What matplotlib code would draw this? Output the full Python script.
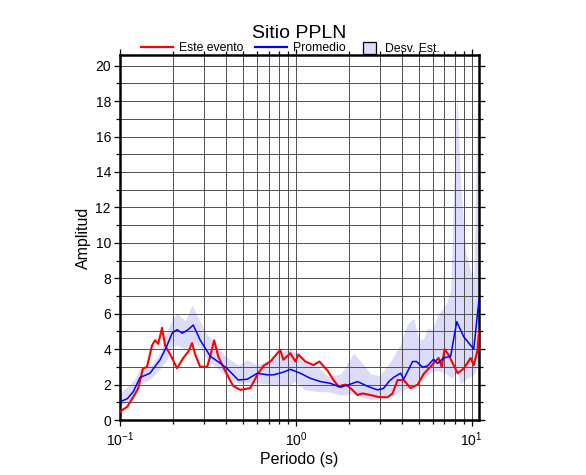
import matplotlib
matplotlib.use('Agg')
import matplotlib.pyplot as plt
import matplotlib.patches as mpatches
from matplotlib.lines import Line2D
from matplotlib.legend_handler import HandlerPatch
from matplotlib.ticker import MultipleLocator, LogLocator, NullFormatter

plt.rcParams['font.family'] = ['Liberation Sans', 'DejaVu Sans']
plt.rcParams['mathtext.fontset'] = 'custom'
plt.rcParams['mathtext.rm'] = 'Liberation Sans'
plt.rcParams['mathtext.it'] = 'Liberation Sans:italic'

# Este evento (red)
event_period = [0.100, 0.110, 0.119, 0.127, 0.135, 0.1425, 0.152, 0.158, 0.165, 0.1734,
                0.1805, 0.193, 0.211, 0.229, 0.244, 0.257, 0.2675, 0.2855, 0.313, 0.326,
                0.343, 0.3615, 0.386, 0.412, 0.4405, 0.483, 0.5505, 0.604, 0.653, 0.716,
                0.785, 0.816, 0.849, 0.931, 0.993, 1.033, 1.132, 1.259, 1.361, 1.511,
                1.636, 1.746, 1.914, 2.046, 2.24, 2.393, 2.66, 2.951, 3.322, 3.548,
                3.786, 4.099, 4.49, 4.925, 5.33, 5.94, 6.48, 6.75, 7.01, 7.39,
                7.89, 8.32, 9.00, 9.86, 10.27, 10.8, 11.0]
event_amp = [0.47, 0.75, 1.3, 1.8, 2.9, 3.0, 4.2, 4.5, 4.3, 5.2,
             4.2, 3.7, 2.92, 3.5, 3.85, 4.34, 3.7, 3.0, 3.0, 3.6,
             4.5, 3.6, 3.0, 2.45, 1.92, 1.7, 1.8, 2.55, 3.05, 3.3,
             3.77, 3.95, 3.4, 3.77, 3.3, 3.7, 3.3, 3.1, 3.3, 2.8,
             2.26, 1.9, 2.0, 1.8, 1.41, 1.5, 1.41, 1.3, 1.28, 1.5,
             2.26, 2.26, 1.8, 2.0, 2.6, 3.1, 3.5, 3.0, 4.0, 3.67,
             3.1, 2.64, 2.9, 3.5, 3.1, 3.95, 5.0]

# Promedio (blue)
mean_period = [0.100, 0.110, 0.119, 0.130, 0.148, 0.169, 0.185, 0.198, 0.211, 0.226,
               0.244, 0.261, 0.286, 0.326, 0.372, 0.407, 0.470, 0.529, 0.604, 0.688,
               0.745, 0.849, 0.931, 1.06, 1.21, 1.38, 1.57, 1.79, 2.05, 2.24,
               2.56, 2.91, 3.15, 3.40, 3.59, 3.94, 4.10, 4.61, 4.85, 5.26,
               5.60, 6.07, 6.40, 6.92, 7.59, 8.22, 9.00, 10.27, 11.0]
mean_amp = [1.03, 1.2, 1.6, 2.4, 2.64, 3.4, 4.2, 4.9, 5.1, 4.9,
            5.1, 5.36, 4.5, 3.6, 3.2, 2.9, 2.26, 2.3, 2.64, 2.55,
            2.55, 2.7, 2.86, 2.64, 2.35, 2.17, 2.07, 1.85, 2.03, 2.17,
            1.9, 1.7, 1.78, 2.2, 2.4, 2.64, 2.3, 3.3, 3.3, 2.98,
            3.05, 3.43, 3.2, 3.5, 3.6, 5.55, 4.7, 4.0, 6.8]

# Desv. Est. (band)
band_period = [0.100, 0.119, 0.130, 0.148, 0.169, 0.185, 0.198, 0.211, 0.235, 0.257,
               0.278, 0.305, 0.3475, 0.396, 0.47, 0.529, 0.604, 0.716, 0.849, 0.931,
               0.993, 1.13, 1.33, 1.53, 1.80, 2.13, 2.39, 2.66, 2.99, 3.27,
               3.55, 3.94, 4.30, 4.67, 5.02, 5.33, 5.60, 5.94, 6.40, 7.20,
               7.59, 7.89, 8.22, 8.63, 9.24, 10.0, 10.3, 10.5, 10.75, 11.0]
band_upper = [1.5, 2.2, 2.9, 3.0, 3.8, 5.0, 5.7, 6.0, 5.6, 6.5,
              5.8, 5.0, 4.3, 3.6, 3.1, 3.4, 3.1, 3.4, 3.9, 4.0,
              3.8, 3.2, 3.0, 2.45, 2.6, 3.77, 3.2, 2.6, 2.5, 3.0,
              3.5, 4.3, 5.4, 5.75, 4.5, 4.6, 5.2, 5.1, 5.9, 6.6,
              7.3, 12.8, 18.5, 13.4, 9.5, 8.2, 8.0, 12.8, 17.8, 18.0]
band_lower = [0.8, 1.2, 2.0, 2.3, 2.9, 3.4, 4.2, 4.2, 4.0, 4.4,
              4.2, 3.6, 3.0, 2.55, 2.07, 2.1, 2.1, 2.0, 1.9, 2.0,
              2.17, 1.7, 1.6, 1.6, 1.4, 1.5, 1.3, 1.15, 1.2, 1.3,
              1.41, 1.6, 1.8, 2.0, 2.26, 2.3, 2.5, 2.7, 2.8, 2.6,
              2.4, 2.5, 2.9, 2.0, 2.3, 2.5, 2.6, 2.8, 3.0, 3.3]

band_color = '#dcdcfa'


def square_handle(legend, orig_handle, xdescent, ydescent, width, height, fontsize):
    return mpatches.Rectangle((-xdescent, -ydescent), width, height)


fig = plt.figure(figsize=(5.86, 4.75), dpi=100)
ax = fig.add_axes([120 / 586, 1 - 420 / 475, 359 / 586, 365 / 475])

ax.fill_between(band_period, band_lower, band_upper, color=band_color, linewidth=0, zorder=1)
ax.plot(event_period, event_amp, color='#ff0000', linewidth=1.5, zorder=3)
ax.plot(mean_period, mean_amp, color='#0000ff', linewidth=1.1, zorder=4)

ax.set_xscale('log')
ax.set_xlim(0.1, 11.0)
ax.set_ylim(0, 20.6)

ax.yaxis.set_major_locator(MultipleLocator(2))
ax.yaxis.set_minor_locator(MultipleLocator(1))
ax.xaxis.set_major_locator(LogLocator(base=10))
ax.xaxis.set_minor_locator(LogLocator(base=10, subs=range(2, 10)))
ax.xaxis.set_minor_formatter(NullFormatter())

ax.grid(which='both', color='#505050', linewidth=0.7)
ax.tick_params(which='both', direction='out', top=True, right=True, labeltop=False,
               labelright=False, width=0.9, colors='black')
ax.tick_params(which='major', length=4.5)
ax.tick_params(which='minor', length=3)
ax.tick_params(axis='y', labelsize=10, pad=2)
ax.tick_params(axis='x', labelsize=10, pad=3)

for side in ax.spines.values():
    side.set_linewidth(1.8)

ax.set_xlabel('Periodo (s)', fontsize=11.5, labelpad=2)
ax.set_ylabel('Amplitud', fontsize=11.5, labelpad=3)
ax.set_title('Sitio PPLN', fontsize=14, pad=12)

line_handles = [Line2D([], [], color='#ff0000', linewidth=1.6),
                Line2D([], [], color='#0000ff', linewidth=1.6)]
leg1 = ax.legend(line_handles, ['Este evento', 'Promedio'], ncol=2, loc='center',
                 bbox_to_anchor=(0.344, 1.018), frameon=False, fontsize=8.8,
                 handlelength=2.6, handletextpad=0.55, columnspacing=0.9,
                 borderpad=0, borderaxespad=0)
ax.add_artist(leg1)
box = mpatches.Patch(facecolor=band_color, edgecolor='black', linewidth=0.9)
ax.legend([box], ['Desv. Est.'], loc='center', bbox_to_anchor=(0.784, 1.018),
          frameon=False, fontsize=8.8, handlelength=1.05, handleheight=1.15,
          handletextpad=0.75, borderpad=0, borderaxespad=0,
          handler_map={mpatches.Patch: HandlerPatch(patch_func=square_handle)})

fig.savefig('out.png', dpi=100)
plt.close(fig)
